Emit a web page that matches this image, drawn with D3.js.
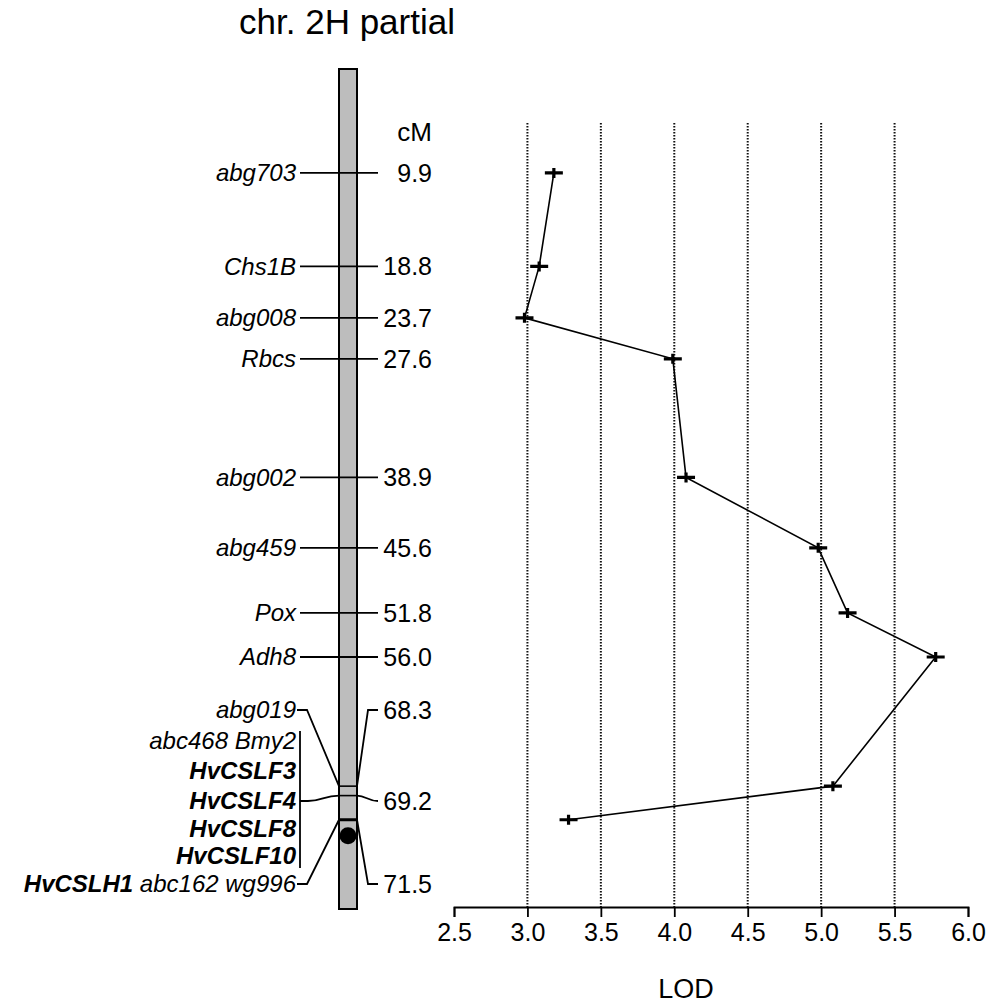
<!DOCTYPE html>
<html>
<head>
<meta charset="utf-8">
<script src="https://cdn.jsdelivr.net/npm/d3@7"></script>
<style>
  body { margin: 0; background: #fff; }
  svg text { font-family: "Liberation Sans", Arial, sans-serif; fill: #000; }
</style>
</head>
<body>
<div id="chart"></div>
<script>
var svgWidth = 990;
var svgHeight = 1005;

// markers with a single position
var markerNames = ["abg703", "Chs1B", "abg008", "Rbcs", "abg002", "abg459", "Pox", "Adh8"];
var markerPos = [9.9, 18.8, 23.7, 27.6, 38.9, 45.6, 51.8, 56.0];

// the tight cluster at the bottom
var clusterPos = [68.3, 69.2, 71.5];
var clusterRows = [
    [{t: "abg019", b: false}],
    [{t: "abc468 Bmy2", b: false}],
    [{t: "HvCSLF3", b: true}],
    [{t: "HvCSLF4", b: true}],
    [{t: "HvCSLF8", b: true}],
    [{t: "HvCSLF10", b: true}],
    [{t: "HvCSLH1", b: true}, {t: " abc162 wg996", b: false}]
];

// LOD profile
var lodPos = [9.9, 18.8, 23.7, 27.6, 38.9, 45.6, 51.8, 56.0, 68.3, 71.5];
var lodVals = [3.18, 3.08, 2.98, 3.99, 4.08, 4.98, 5.18, 5.78, 5.08, 3.28];
var lodTicks = [2.5, 3.0, 3.5, 4.0, 4.5, 5.0, 5.5, 6.0];
var gridTicks = [3.0, 3.5, 4.0, 4.5, 5.0, 5.5];

// layout
var chrX0 = 339, chrX1 = 357;
var nameX = 296, cmX = 432;
var rowY = [710, 741, 771, 801, 829, 856, 884]; // label rows of the cluster
var plotTop = 123, axisY = 907;
var fs = "24px";

var y = d3.scaleLinear().domain([0, 80]).range([69, 909]);
var x = d3.scaleLinear().domain([2.5, 6.0]).range([454, 968]);

var svg = d3.select("#chart").append("svg")
    .attr("width", svgWidth)
    .attr("height", svgHeight);

svg.append("text")
    .attr("x", 347).attr("y", 34)
    .attr("text-anchor", "middle")
    .style("font-size", "35px")
    .text("chr. 2H partial");

// chromosome
svg.append("rect")
    .attr("x", chrX0).attr("y", y(0))
    .attr("width", chrX1 - chrX0).attr("height", y(80) - y(0))
    .attr("fill", "#bdbdbd")
    .attr("stroke", "#000")
    .attr("stroke-width", 2);

svg.append("text")
    .attr("x", cmX).attr("y", 141)
    .attr("text-anchor", "end")
    .style("font-size", "26px")
    .text("cM");

// simple markers
var mk = svg.selectAll(".marker")
    .data(markerNames.map((d, i) => ({name: d, pos: markerPos[i]})))
    .enter().append("g")
    .attr("class", "marker")
    .attr("transform", d => "translate(0," + y(d.pos) + ")");
mk.append("line")
    .attr("x1", 300).attr("x2", 378)
    .attr("stroke", "#000").attr("stroke-width", 1.8);
mk.append("text")
    .attr("x", nameX).attr("dy", "0.35em")
    .attr("text-anchor", "end")
    .style("font-size", fs)
    .style("font-style", "italic")
    .text(d => d.name);
mk.append("text")
    .attr("x", cmX).attr("dy", "0.35em")
    .attr("text-anchor", "end")
    .style("font-size", "25px")
    .text(d => d.pos.toFixed(1));

// cluster bands on the chromosome
svg.selectAll(".band")
    .data(clusterPos)
    .enter().append("line")
    .attr("class", "band")
    .attr("x1", chrX0).attr("x2", chrX1)
    .attr("y1", d => y(d)).attr("y2", d => y(d))
    .attr("stroke", "#000")
    .attr("stroke-width", (d, i) => i == 2 ? 3 : 1.6);

svg.append("circle")
    .attr("cx", (chrX0 + chrX1) / 2)
    .attr("cy", y(clusterPos[2]) + 16)
    .attr("r", 8.5)
    .attr("fill", "#000");

// cluster labels
var rows = svg.selectAll(".crow")
    .data(clusterRows)
    .enter().append("text")
    .attr("class", "crow")
    .attr("x", nameX)
    .attr("y", (d, i) => rowY[i])
    .attr("dy", "0.35em")
    .attr("text-anchor", "end")
    .style("font-size", fs)
    .style("font-style", "italic");
rows.selectAll("tspan")
    .data(d => d)
    .enter().append("tspan")
    .style("font-weight", d => d.b ? "bold" : "normal")
    .attr("xml:space", "preserve")
    .text(d => d.t);

// bracket and leaders of the cluster
var ln = svg.append("g")
    .attr("fill", "none")
    .attr("stroke", "#000")
    .attr("stroke-width", 1.8);
ln.append("line")
    .attr("x1", 300).attr("x2", 300)
    .attr("y1", 731).attr("y2", 868);
var leaderRows = [0, 3, 6];
clusterPos.forEach(function (p, i) {
    var ly = rowY[leaderRows[i]], cy = y(p);
    var left, right;
    if (i == 1) {
        left = "M300," + ly + "H308C322," + ly + " 324," + cy + " " + chrX0 + "," + cy;
        right = "M" + chrX1 + "," + cy + "C366," + cy + " 368," + ly + " 378," + ly;
    } else {
        left = "M297," + ly + "H307L" + chrX0 + "," + cy;
        right = "M" + chrX1 + "," + cy + "L368," + ly + "H378";
    }
    ln.append("path").attr("d", left);
    ln.append("path").attr("d", right);
    svg.append("text")
        .attr("x", cmX).attr("y", ly).attr("dy", "0.35em")
        .attr("text-anchor", "end")
        .style("font-size", "25px")
        .text(p.toFixed(1));
});

// LOD plot
svg.selectAll(".grid")
    .data(gridTicks)
    .enter().append("line")
    .attr("class", "grid")
    .attr("x1", d => x(d)).attr("x2", d => x(d))
    .attr("y1", plotTop).attr("y2", axisY)
    .attr("stroke", "#111")
    .attr("stroke-width", 2)
    .attr("stroke-dasharray", "1.5,1.5");

var axis = svg.append("g")
    .attr("transform", "translate(0," + axisY + ")")
    .call(d3.axisBottom(x)
        .tickValues(lodTicks)
        .tickFormat(d3.format(".1f"))
        .tickSize(10)
        .tickSizeOuter(10)
        .tickPadding(6));
axis.select(".domain").attr("stroke-width", 1.8);
axis.selectAll(".tick line").attr("stroke-width", 1.8);
axis.selectAll("text")
    .style("font-size", "25px")
    .style("font-family", "Liberation Sans, Arial, sans-serif");

svg.append("text")
    .attr("x", 686).attr("y", 998)
    .attr("text-anchor", "middle")
    .style("font-size", "27px")
    .text("LOD");

var pts = lodPos.map((d, i) => ({pos: d, lod: lodVals[i]}));
svg.append("path")
    .datum(pts)
    .attr("fill", "none")
    .attr("stroke", "#000")
    .attr("stroke-width", 1.6)
    .attr("d", d3.line().x(d => x(d.lod)).y(d => y(d.pos)));

svg.selectAll(".pt")
    .data(pts)
    .enter().append("path")
    .attr("class", "pt")
    .attr("transform", d => "translate(" + x(d.lod) + "," + y(d.pos) + ")")
    .attr("d", "M-9,0H9M0,-5V5")
    .attr("stroke", "#000")
    .attr("stroke-width", 3.2);
</script>
</body>
</html>
